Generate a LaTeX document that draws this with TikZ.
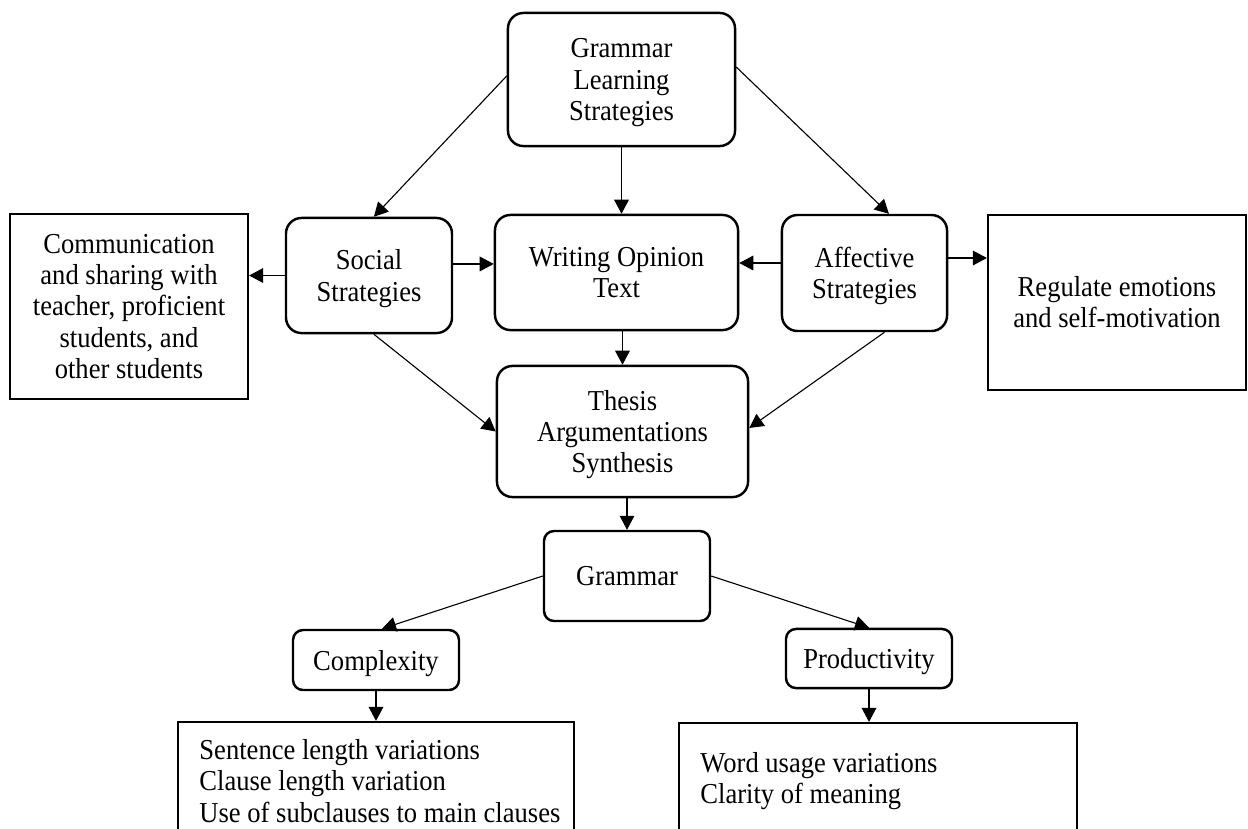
\documentclass[tikz,border=0pt]{standalone}
\usepackage{fontspec}
\setmainfont{Liberation Serif}[FakeStretch=0.92]
\usetikzlibrary{arrows.meta}

\begin{document}
\begin{tikzpicture}[x=0.45pt,y=-0.45pt,
    font=\fontsize{13}{14}\selectfont,
    roundbox/.style={draw,line width=1.1pt,rounded corners=7pt,align=center,inner sep=0pt,text depth=0pt},
    smallbox/.style={roundbox,rounded corners=4.5pt},
    sharpbox/.style={draw,line width=1pt,align=center,inner sep=0pt},
    arr/.style={-{Triangle[length=6.3pt,width=6.6pt]},line width=0.5pt}]
  \useasboundingbox (0,0) rectangle (1248,828);
  \clip (0,0) rectangle (1248,828);
  \node[roundbox,minimum width=102.2pt,minimum height=59.9pt] (gls) at (621.5,79.5) {Grammar\\Learning\\Strategies};
  \node[roundbox,minimum width=74.7pt,minimum height=51.8pt] (social) at (369,275.5) {Social\\Strategies};
  \node[roundbox,minimum width=109.4pt,minimum height=51.8pt] (writing) at (616.5,272.5) {Writing Opinion\\Text};
  \node[roundbox,minimum width=74.3pt,minimum height=52.2pt] (affective) at (864.5,273) {Affective\\Strategies};
  \node[sharpbox,minimum width=107.1pt,minimum height=83.3pt] (comm) at (129,306.5) {Communication\\and sharing with\\teacher, proficient\\students, and\\other students};
  \node[sharpbox,minimum width=116.1pt,minimum height=78.8pt] (regulate) at (1117,302.5) {Regulate emotions\\and self-motivation};
  \node[roundbox,minimum width=113pt,minimum height=59pt] (thesis) at (622.5,431.5) {Thesis\\Argumentations\\Synthesis};
  \node[smallbox,minimum width=74.7pt,minimum height=40.5pt] (grammar) at (627,576) {Grammar};
  \node[smallbox,minimum width=74.7pt,minimum height=27pt] (complexity) at (376,660) {Complexity};
  \node[smallbox,minimum width=74.7pt,minimum height=26.6pt] (productivity) at (869,658.5) {Productivity};
  \node[sharpbox,minimum width=178.2pt,minimum height=58.5pt] (leftbox) at (376,787) {};
  \node[sharpbox,minimum width=179.1pt,minimum height=58.5pt] (rightbox) at (878,788) {};
  \node[anchor=west,align=left,inner sep=0pt] (lefttext) at (199,781) {Sentence length variations\\Clause length variation\\Use of subclauses to main clauses};
  \node[anchor=west,align=left,inner sep=0pt] (righttext) at (700,781) {Word usage variations\\Clarity of meaning};

  \draw[arr] ([yshift=1.6pt]gls.west) -- ([xshift=2.2pt]social.north);
  \draw[arr] ([yshift=5.6pt]gls.east) -- ([xshift=11pt]affective.north);
  \draw[arr] (gls.south) -- (gls.south |- writing.north);
  \draw[arr] ([yshift=5.2pt]social.east) coordinate (s1) -- (s1 -| writing.west);
  \draw[arr] ([yshift=4.5pt]affective.west) coordinate (a1) -- (a1 -| writing.east);
  \draw[arr] (social.west) -- (social.west -| comm.east);
  \draw[arr] ([yshift=6.75pt]affective.east) coordinate (a2) -- (a2 -| regulate.west);
  \draw[arr] (thesis.north |- writing.south) -- (thesis.north);
  \draw[arr] ([xshift=2.2pt]social.south) -- (thesis.west);
  \draw[arr] ([xshift=9pt]affective.south) -- ([yshift=1.6pt]thesis.east);
  \draw[arr] (grammar.north |- thesis.south) -- (grammar.north);
  \draw[arr] (grammar.west) -- ([xshift=2.7pt]complexity.north);
  \draw[arr] (grammar.east) -- (productivity.north);
  \draw[arr] (complexity.south) -- (complexity.south |- leftbox.north);
  \draw[arr] (productivity.south) -- (productivity.south |- rightbox.north);
\end{tikzpicture}
\end{document}
